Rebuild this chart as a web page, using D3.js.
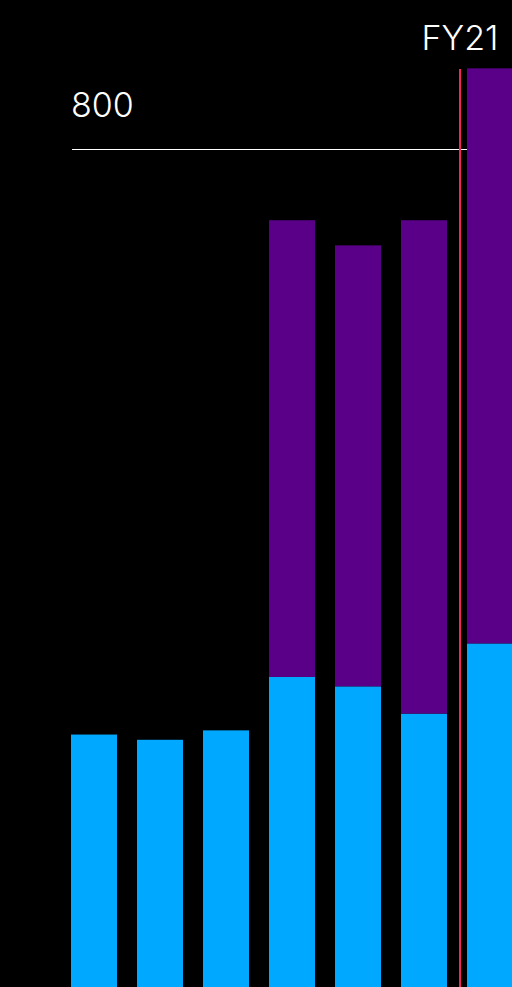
<!DOCTYPE html>
<html><head><meta charset="utf-8">
<script src="https://cdn.jsdelivr.net/npm/d3@7"></script>
<style>html,body{margin:0;padding:0;background:#000;overflow:hidden}svg{display:block}</style>
</head><body>
<svg id="c" width="512" height="987"></svg>
<script>
const categories = ["FY15","FY16","FY17","FY18","FY19","FY20","FY21"];
const baseValues = [241, 236, 245, 296, 287, 261, 328];
const extraValues = [0, 0, 0, 436, 421, 471, 549];
const yTicks = [800];
const markerLabel = "FY21";

const svg = d3.select("#c");
const x = d3.scaleBand().domain(categories).range([71, 513]).paddingInner(20/66).paddingOuter(0);
const y = d3.scaleLinear().domain([0, 800]).range([987, 149]);

// gridline + label
yTicks.forEach(t => {
  svg.append("line").attr("x1", 72).attr("x2", 467).attr("y1", Math.round(y(t)) + 0.5).attr("y2", Math.round(y(t)) + 0.5)
    .attr("stroke", "#fff").attr("stroke-width", 1);
  svg.append("text").attr("x", 71).attr("y", y(t) - 32).text(t)
    .attr("fill", "#fff").attr("font-family", "Inter").attr("font-size", 34).attr("font-weight", 300);
});

const stacked = categories.map((c, i) => ({c, b: baseValues[i], e: extraValues[i]}));
svg.selectAll("rect.base").data(stacked).join("rect").attr("class", "base")
  .attr("x", d => x(d.c)).attr("width", x.bandwidth())
  .attr("y", d => y(d.b)).attr("height", d => y(0) - y(d.b)).attr("fill", "#00a8ff");
svg.selectAll("rect.extra").data(stacked.filter(d => d.e > 0)).join("rect").attr("class", "extra")
  .attr("x", d => x(d.c)).attr("width", x.bandwidth())
  .attr("y", d => y(d.b + d.e)).attr("height", d => y(d.b) - y(d.b + d.e)).attr("fill", "#5a0088");

// marker line
const mx = x(markerLabel) - 7;
svg.append("line").attr("x1", mx).attr("x2", mx).attr("y1", 69).attr("y2", 987)
  .attr("stroke", "#f5245a").attr("stroke-width", 2);
svg.append("text").attr("x", mx).attr("y", 50).attr("text-anchor", "middle").text(markerLabel)
  .attr("fill", "#fff").attr("font-family", "Inter").attr("font-size", 34).attr("font-weight", 300);
</script>
</body></html>
